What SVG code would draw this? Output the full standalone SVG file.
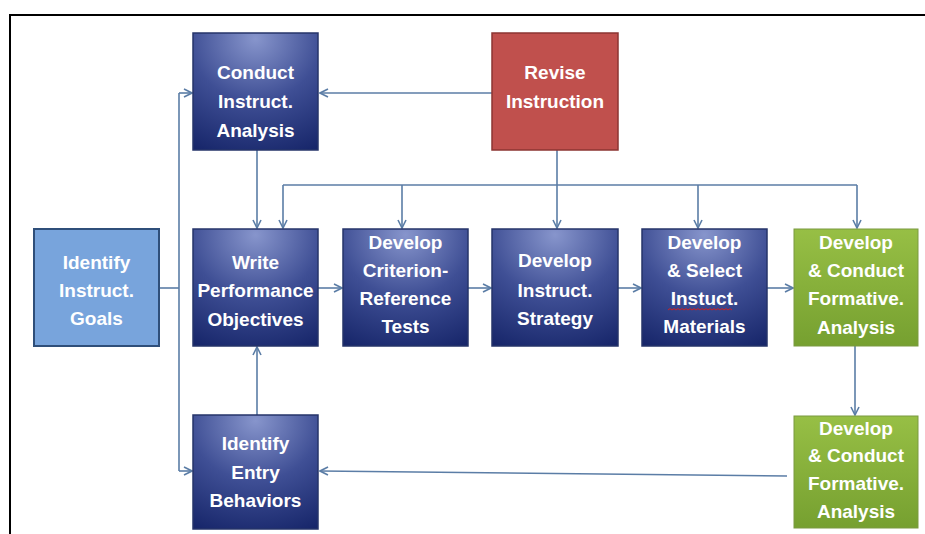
<svg xmlns="http://www.w3.org/2000/svg" width="925" height="534" viewBox="0 0 925 534">
<style>
.t{font-family:"Liberation Sans",Arial,sans-serif;font-weight:bold;font-size:19px;fill:#ffffff;text-anchor:middle}
.dk{fill:url(#gBlue);stroke:#26346a;stroke-width:1.5}
.lt{fill:#78a4dc;stroke:#2f4f7a;stroke-width:2}
.gr{fill:url(#gGreen);stroke:#7a9a40;stroke-width:1}
.rd{fill:#c0504d;stroke:#8c3532;stroke-width:1.5}
.c{fill:none;stroke:#5b7da6;stroke-width:1.6}
.ca{fill:none;stroke:#5b7da6;stroke-width:1.6;marker-end:url(#ah)}
</style>
<defs>
<radialGradient id="gBlue" cx="0.5" cy="0.05" r="1.05">
<stop offset="0" stop-color="#8795cc"/>
<stop offset="0.5" stop-color="#3f4f95"/>
<stop offset="1" stop-color="#17266a"/>
</radialGradient>
<linearGradient id="gGreen" x1="0" y1="0" x2="0" y2="1">
<stop offset="0" stop-color="#97bf45"/>
<stop offset="1" stop-color="#76a030"/>
</linearGradient>
<marker id="ah" viewBox="0 0 10 10" refX="9" refY="5" markerWidth="10" markerHeight="10" markerUnits="userSpaceOnUse" orient="auto">
<path d="M1,1 L9,5 L1,9" fill="none" stroke="#5b7da6" stroke-width="1.6"/>
</marker>
</defs>
<rect width="925" height="534" fill="#ffffff"/>
<path d="M10,534 L10,15 L925,15" fill="none" stroke="#000000" stroke-width="2"/>
<g id="connectors">
<line class="ca" x1="492" y1="93" x2="320" y2="93"/>
<line class="c" x1="557" y1="150" x2="557" y2="185"/>
<line class="c" x1="283" y1="185" x2="857" y2="185"/>
<line class="ca" x1="283" y1="185" x2="283" y2="228"/>
<line class="ca" x1="402" y1="185" x2="402" y2="228"/>
<line class="ca" x1="557" y1="185" x2="557" y2="228"/>
<line class="ca" x1="698" y1="185" x2="698" y2="228"/>
<line class="ca" x1="857" y1="185" x2="857" y2="228"/>
<line class="ca" x1="257" y1="150" x2="257" y2="228"/>
<line class="c" x1="159" y1="288" x2="179" y2="288"/>
<line class="c" x1="179" y1="93" x2="179" y2="471"/>
<line class="ca" x1="179" y1="93" x2="192" y2="93"/>
<line class="ca" x1="179" y1="471" x2="192" y2="471"/>
<line class="ca" x1="318" y1="288" x2="342" y2="288"/>
<line class="ca" x1="468" y1="288" x2="491" y2="288"/>
<line class="ca" x1="618" y1="288" x2="641" y2="288"/>
<line class="ca" x1="767" y1="288" x2="793" y2="288"/>
<line class="ca" x1="257" y1="415" x2="257" y2="347"/>
<line class="ca" x1="855" y1="346" x2="855" y2="415"/>
<line class="ca" x1="787" y1="476" x2="320" y2="471"/>
</g>
<g id="conduct">
<rect class="dk" x="193" y="33" width="125" height="117"/>
<text class="t" x="255.5" y="79">Conduct</text>
<text class="t" x="255.5" y="108">Instruct.</text>
<text class="t" x="255.5" y="137">Analysis</text>
</g>
<g id="revise">
<rect class="rd" x="492" y="33" width="126" height="117"/>
<text class="t" x="555" y="79">Revise</text>
<text class="t" x="555" y="108">Instruction</text>
</g>
<g id="goals">
<rect class="lt" x="34" y="229" width="125" height="117"/>
<text class="t" x="96.5" y="269">Identify</text>
<text class="t" x="96.5" y="297">Instruct.</text>
<text class="t" x="96.5" y="325">Goals</text>
</g>
<g id="write">
<rect class="dk" x="193" y="229" width="125" height="117"/>
<text class="t" x="255.5" y="269">Write</text>
<text class="t" x="255.5" y="297">Performance</text>
<text class="t" x="255.5" y="326">Objectives</text>
</g>
<g id="criterion">
<rect class="dk" x="343" y="229" width="125" height="117"/>
<text class="t" x="405.5" y="249">Develop</text>
<text class="t" x="405.5" y="277">Criterion-</text>
<text class="t" x="405.5" y="305">Reference</text>
<text class="t" x="405.5" y="333">Tests</text>
</g>
<g id="strategy">
<rect class="dk" x="492" y="229" width="126" height="117"/>
<text class="t" x="555" y="267">Develop</text>
<text class="t" x="555" y="297">Instruct.</text>
<text class="t" x="555" y="325">Strategy</text>
</g>
<g id="materials">
<rect class="dk" x="642" y="229" width="125" height="117"/>
<text class="t" x="704.5" y="249">Develop</text>
<text class="t" x="704.5" y="277">&amp; Select</text>
<text class="t" x="704.5" y="305">Instuct.</text>
<path d="M668,310 l2,-1.5 l2,1.5 l2,-1.5 l2,1.5 l2,-1.5 l2,1.5 l2,-1.5 l2,1.5 l2,-1.5 l2,1.5 l2,-1.5 l2,1.5 l2,-1.5 l2,1.5 l2,-1.5 l2,1.5 l2,-1.5 l2,1.5 l2,-1.5 l2,1.5 l2,-1.5 l2,1.5 l2,-1.5 l2,1.5 l2,-1.5 l2,1.5 l2,-1.5 l2,1.5 l2,-1.5 l2,1.5 l2,-1.5 l2,1.5" fill="none" stroke="#d02020" stroke-width="1"/>
<text class="t" x="704.5" y="333">Materials</text>
</g>
<g id="formative1">
<rect class="gr" x="794" y="229" width="124" height="117"/>
<text class="t" x="856" y="249">Develop</text>
<text class="t" x="856" y="277">&amp; Conduct</text>
<text class="t" x="856" y="305">Formative.</text>
<text class="t" x="856" y="334">Analysis</text>
</g>
<g id="entry">
<rect class="dk" x="193" y="415" width="125" height="114"/>
<text class="t" x="255.5" y="450">Identify</text>
<text class="t" x="255.5" y="479">Entry</text>
<text class="t" x="255.5" y="507">Behaviors</text>
</g>
<g id="formative2">
<rect class="gr" x="794" y="416" width="124" height="112"/>
<text class="t" x="856" y="435">Develop</text>
<text class="t" x="856" y="462">&amp; Conduct</text>
<text class="t" x="856" y="490">Formative.</text>
<text class="t" x="856" y="518">Analysis</text>
</g>
</svg>
